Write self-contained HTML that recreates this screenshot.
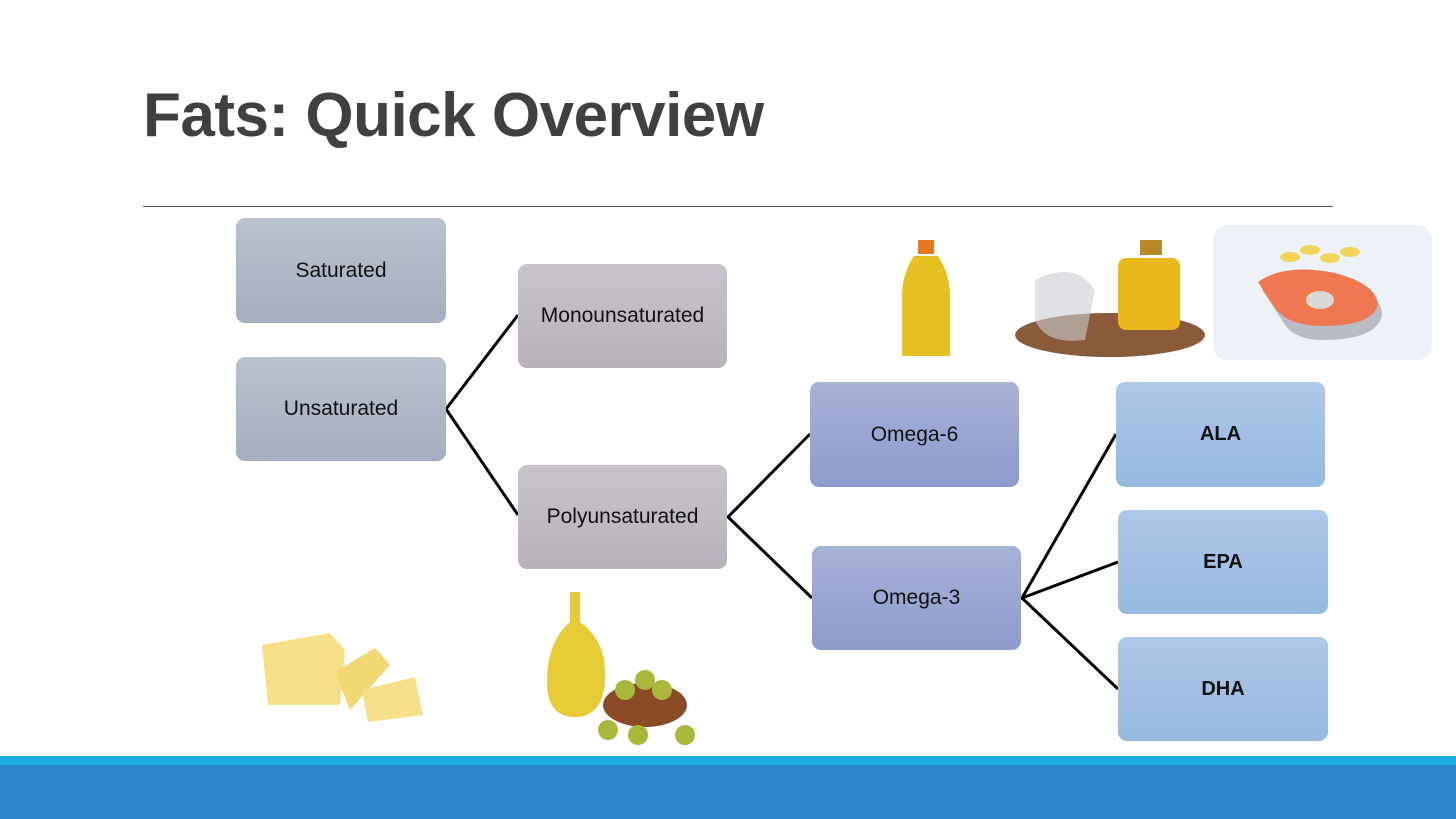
<!DOCTYPE html>
<html><head><meta charset="utf-8"><style>
body{margin:0;width:1456px;height:819px;overflow:hidden;background:#fff;font-family:"Liberation Sans",sans-serif;position:relative}
.t{position:absolute;left:143px;top:80px;font-size:62px;font-weight:bold;color:#404040;letter-spacing:-0.5px}
.b{position:absolute;border-radius:9px;display:flex;align-items:center;justify-content:center;font-size:21px;color:#111}
.g{background:linear-gradient(#bac2d0,#a5aec0)}
.m{background:linear-gradient(#c8c3cb,#b8b1ba)}
.o{background:linear-gradient(#a7b2d8,#8d9bcc)}
.l{background:linear-gradient(#adc8e8,#95b9df);font-weight:bold;font-size:20px}
</style></head><body>
<div class="t">Fats: Quick Overview</div>
<div style="position:absolute;left:143px;top:206px;width:1190px;height:1px;background:#555"></div>
<svg style="position:absolute;left:0;top:0" width="1456" height="819">
<g stroke="#000" stroke-width="3" fill="none">
<path d="M518 315 L446 409 L518 515"/>
<path d="M810 434 L728 517 L812 598"/>
<path d="M1116 434 L1022 598 L1118 562 M1022 598 L1118 689"/>
</g>
<!-- butter -->
<polygon points="262,645 330,633 345,650 340,705 268,705" fill="#f6df86"/>
<polygon points="335,672 375,648 390,665 350,710" fill="#f3d772"/>
<polygon points="362,690 415,677 423,715 368,722" fill="#f6df86"/>
<!-- olive oil -->
<path d="M570 592 h10 v30 q28 20 25 60 q-3 35 -30 35 q-28 0 -28 -35 q0 -40 23 -60z" fill="#e3c520" opacity=".9"/>
<ellipse cx="645" cy="705" rx="42" ry="22" fill="#8a4a26"/>
<g fill="#a9b83a"><circle cx="625" cy="690" r="10"/><circle cx="645" cy="680" r="10"/><circle cx="662" cy="690" r="10"/><circle cx="608" cy="730" r="10"/><circle cx="638" cy="735" r="10"/><circle cx="685" cy="735" r="10"/></g>
<!-- bottle -->
<rect x="918" y="240" width="16" height="14" fill="#e8761c"/>
<path d="M914 256 h24 q12 18 12 40 v60 h-48 v-60 q0 -22 12 -40z" fill="#e6bf22"/>
<!-- seeds and jar -->
<ellipse cx="1110" cy="335" rx="95" ry="22" fill="#8a5a3a"/>
<path d="M1035 280 q40 -20 60 10 l-10 50 q-40 5 -50 -20z" fill="#c9cdd2" opacity=".6"/>
<rect x="1140" y="240" width="22" height="15" fill="#b88a2a"/>
<rect x="1118" y="258" width="62" height="72" rx="8" fill="#e9b81a"/>
<!-- salmon panel -->
<rect x="1213" y="225" width="219" height="135" rx="14" fill="#edf2f9"/>
<path d="M1262 290 q20 -20 70 -10 q50 10 50 35 q-5 25 -60 25 q-30 0 -40 -20z" fill="#b9bcc4"/>
<path d="M1258 282 q25 -18 72 -10 q45 10 48 32 q-5 22 -55 22 q-35 0 -48 -18z" fill="#f07850"/>
<ellipse cx="1320" cy="300" rx="14" ry="9" fill="#d8d8d8"/>
<g fill="#f0d55a"><ellipse cx="1290" cy="257" rx="10" ry="5"/><ellipse cx="1310" cy="250" rx="10" ry="5"/><ellipse cx="1330" cy="258" rx="10" ry="5"/><ellipse cx="1350" cy="252" rx="10" ry="5"/></g>
</svg>
<div class="b g" style="left:236px;top:218px;width:210px;height:105px">Saturated</div>
<div class="b g" style="left:236px;top:357px;width:210px;height:104px">Unsaturated</div>
<div class="b m" style="left:518px;top:264px;width:209px;height:104px">Monounsaturated</div>
<div class="b m" style="left:518px;top:465px;width:209px;height:104px">Polyunsaturated</div>
<div class="b o" style="left:810px;top:382px;width:209px;height:105px">Omega-6</div>
<div class="b o" style="left:812px;top:546px;width:209px;height:104px">Omega-3</div>
<div class="b l" style="left:1116px;top:382px;width:209px;height:105px">ALA</div>
<div class="b l" style="left:1118px;top:510px;width:210px;height:104px">EPA</div>
<div class="b l" style="left:1118px;top:637px;width:210px;height:104px">DHA</div>
<div style="position:absolute;left:0;top:756px;width:1456px;height:9px;background:#1eaee4"></div>
<div style="position:absolute;left:0;top:765px;width:1456px;height:54px;background:#2a85c8"></div>
</body></html>
